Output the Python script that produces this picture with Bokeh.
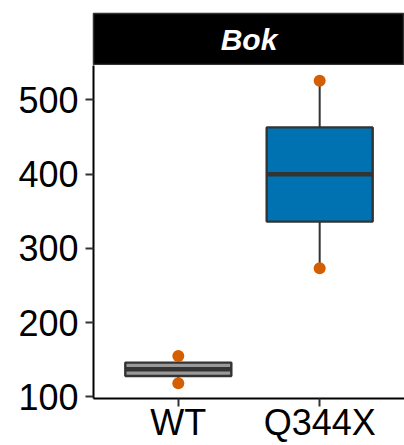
from bokeh.plotting import figure
from bokeh.layouts import column
from bokeh.models import Range1d, FactorRange, FixedTicker
from bokeh.core.properties import value
from bokeh.embed import file_html
from bokeh.resources import INLINE

# ---- data ----
panel_title = "Bok"
groups = ["WT", "Q344X"]
q1 = [128, 336]
median = [137, 400]
q3 = [146, 463]
whisk_lo = [118, 273]
whisk_hi = [155, 526]
fills = ["#999999", "#0072B2"]
pt_groups = ["WT", "WT", "Q344X", "Q344X"]
pt_values = [155, 118, 526, 273]
y_ticks = [100, 200, 300, 400, 500]

FONT = "Liberation Sans"
EDGE = "#333333"

# y range: data span plus 5% each side (ggplot style)
lo = min(whisk_lo + pt_values)
hi = max(whisk_hi + pt_values)
pad = (hi - lo) * 0.05

# ---- strip header ----
strip = figure(width=404, height=65, x_range=Range1d(0, 1), y_range=Range1d(0, 1),
               output_backend="svg", toolbar_location=None, title=None,
               min_border_left=93, min_border_right=0, min_border_top=13, min_border_bottom=1)
strip.axis.visible = False
strip.grid.visible = False
strip.background_fill_color = "black"
strip.border_fill_color = "white"
strip.outline_line_color = EDGE
strip.outline_line_width = 1.5
strip.text(x=[0.5], y=[0.5], text=[panel_title], text_color="white",
           text_font=value(FONT), text_font_size="30px", text_font_style="bold italic",
           text_align="center", text_baseline="middle")

# ---- main panel ----
p = figure(width=404, height=380, x_range=FactorRange(*groups, range_padding=0.1),
           y_range=Range1d(lo - pad, hi + pad),
           output_backend="svg", toolbar_location=None, title=None,
           min_border_left=93, min_border_right=0, min_border_top=0, min_border_bottom=46)
p.grid.visible = False
p.outline_line_color = None
p.background_fill_color = "white"
p.border_fill_color = "white"

# whiskers
p.segment(x0=groups, y0=q3, x1=groups, y1=whisk_hi, line_color=EDGE, line_width=2)
p.segment(x0=groups, y0=q1, x1=groups, y1=whisk_lo, line_color=EDGE, line_width=2)
# boxes
p.vbar(x=groups, width=0.75, top=q3, bottom=q1, fill_color=fills,
       line_color=EDGE, line_width=2.4)
# medians
p.rect(x=groups, y=median, width=0.75, height=4.5, height_units="screen",
       fill_color=EDGE, line_color=None)
# points
p.scatter(x=pt_groups, y=pt_values, size=12, fill_color="#D55E00", line_color=None)

for ax in (p.xaxis[0], p.yaxis[0]):
    ax.axis_line_color = "black"
    ax.axis_line_width = 2
    ax.major_tick_line_color = "#333333"
    ax.major_tick_line_width = 2
    ax.major_tick_out = 8
    ax.major_tick_in = 0
    ax.minor_tick_line_color = None
    ax.major_label_text_font = FONT
    ax.major_label_text_color = "black"

p.yaxis.ticker = FixedTicker(ticks=y_ticks)
p.yaxis.major_label_text_font_size = "36px"
p.yaxis.major_label_standoff = 7
p.xaxis.major_label_text_font_size = "36px"
p.xaxis.major_label_standoff = -5

layout = column(strip, p)

open("out.html", "w").write(file_html(layout, INLINE))
